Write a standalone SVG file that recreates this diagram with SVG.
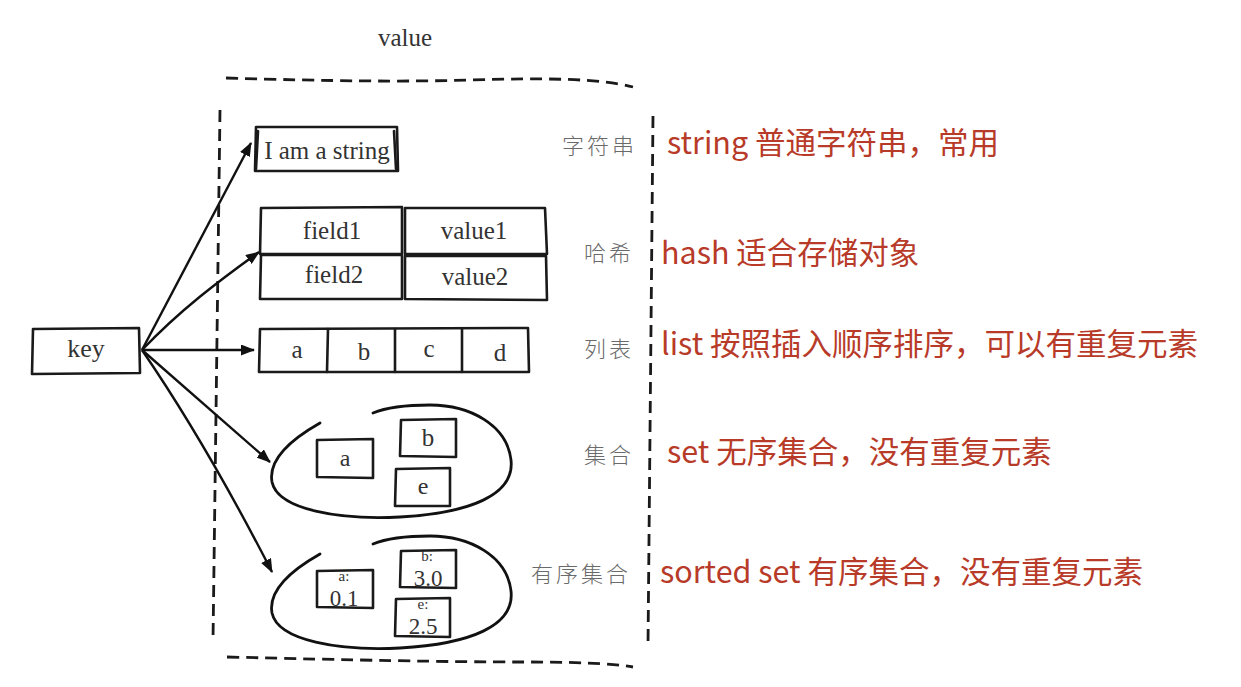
<svg xmlns="http://www.w3.org/2000/svg" width="1241" height="687" viewBox="0 0 1241 687">
<style>
.bg{fill:#ffffff}
.box{fill:none;stroke:#1a1a1a;stroke-width:2.6;stroke-linejoin:round;stroke-linecap:round}
.blob{fill:none;stroke:#111;stroke-width:2.8;stroke-linecap:round}
.dash{fill:none;stroke:#1a1a1a;stroke-width:2.8;stroke-dasharray:12 7}
.arr{fill:none;stroke:#111;stroke-width:2.4}
.serif{font-family:"Liberation Serif","DejaVu Serif",serif;fill:#333;text-anchor:middle}
.gray{font-family:"Noto Sans CJK SC","Noto Sans CJK JP",sans-serif;font-weight:300;fill:#6a6a6a;font-size:22px;letter-spacing:3px}
.red{font-family:"Noto Sans CJK SC","Noto Sans CJK JP",sans-serif;fill:#b83a28;font-size:30.5px}
</style>
<defs>
<marker id="ah" viewBox="0 0 14 11" refX="13" refY="5.5" markerWidth="14" markerHeight="11" markerUnits="userSpaceOnUse" orient="auto">
<path d="M0,0 L14,5.5 L0,11 Z" fill="#111"/>
</marker>
</defs>
<rect class="bg" x="0" y="0" width="1241" height="687"/>

<g id="value-title"><text class="serif" x="405" y="46" font-size="25">value</text></g>

<g id="value-frame">
<path class="dash" d="M226,78 C330,81 400,82 470,80 C540,78 600,78 633,87"/>
<path class="dash" d="M220,110 L213,641"/>
<path class="dash" d="M653,116 L648,646"/>
<path class="dash" d="M227,657 C350,660 450,662 520,662 C570,662 610,663 633,667"/>
</g>

<g id="key">
<path class="box" d="M33,329 L139,328 L140,373 L32,374 Z"/>
<text class="serif" x="86" y="357" font-size="26">key</text>
</g>

<g id="string">
<path class="box" d="M256,127 L397,127 L398,171 L255,171 Z"/>
<path class="box" d="M258,131 L256,169 M394,131 L396,169"/>
<text class="serif" x="327" y="159" font-size="25">I am a string</text>
</g>

<g id="hash">
<path class="box" d="M261,208 L402,207 L402,254 L260,254 Z"/>
<path class="box" d="M405,208 L545,208 L547,254 L405,254 Z"/>
<path class="box" d="M261,255 L402,255 L402,299 L260,299 Z"/>
<path class="box" d="M405,256 L546,256 L547,300 L405,299 Z"/>
<text class="serif" x="332" y="239" font-size="25">field1</text>
<text class="serif" x="474" y="239" font-size="25">value1</text>
<text class="serif" x="334" y="283" font-size="25">field2</text>
<text class="serif" x="475" y="285" font-size="25">value2</text>
</g>

<g id="list">
<path class="box" d="M260,329 L528,328 L529,372 L259,372 Z"/>
<path class="box" d="M328,329 L327,372 M395,329 L395,372 M462,329 L462,372"/>
<text class="serif" x="297" y="358" font-size="25">a</text>
<text class="serif" x="364" y="360" font-size="25">b</text>
<text class="serif" x="429" y="357" font-size="25">c</text>
<text class="serif" x="500" y="361" font-size="25">d</text>
</g>

<g id="set">
<path class="blob" d="M320,423 C290,440 268,460 272,482 C278,510 340,520 400,517 C470,513 515,495 511,460 C507,425 470,405 430,405 C405,405 385,408 373,413"/>
<path class="box" d="M317,440 L373,439 L373,478 L317,477 Z"/>
<path class="box" d="M401,420 L456,419 L456,457 L400,456 Z"/>
<path class="box" d="M396,469 L450,468 L450,506 L395,506 Z"/>
<text class="serif" x="345" y="466" font-size="24">a</text>
<text class="serif" x="428" y="446" font-size="25">b</text>
<text class="serif" x="423" y="494" font-size="24">e</text>
</g>

<g id="sorted-set">
<path class="blob" d="M320,554 C290,571 268,591 272,613 C278,641 340,651 400,648 C470,644 515,626 511,591 C507,556 470,536 430,536 C405,536 385,539 373,544"/>
<path class="box" d="M317,571 L373,570 L373,608 L317,607 Z"/>
<path class="box" d="M401,551 L456,550 L456,588 L400,587 Z"/>
<path class="box" d="M396,599 L450,598 L450,637 L395,636 Z"/>
<text class="serif" x="344" y="581" font-size="15">a:</text>
<text class="serif" x="344" y="606" font-size="23">0.1</text>
<text class="serif" x="427" y="561" font-size="15">b:</text>
<text class="serif" x="428" y="586" font-size="23">3.0</text>
<text class="serif" x="423" y="609" font-size="15">e:</text>
<text class="serif" x="423" y="634" font-size="23">2.5</text>
</g>

<g id="connectors">
<path class="arr" d="M142,350 L251,143" marker-end="url(#ah)"/>
<path class="arr" d="M142,350 C180,310 220,280 259,252" marker-end="url(#ah)"/>
<path class="arr" d="M142,350 L254,350" marker-end="url(#ah)"/>
<path class="arr" d="M142,350 L270,462" marker-end="url(#ah)"/>
<path class="arr" d="M142,350 C190,420 235,500 272,572" marker-end="url(#ah)"/>
</g>

<g id="type-labels">
<text class="gray" x="562" y="154">字符串</text>
<text class="gray" x="584" y="261">哈希</text>
<text class="gray" x="584" y="357">列表</text>
<text class="gray" x="584" y="463">集合</text>
<text class="gray" x="531" y="582">有序集合</text>
</g>

<g id="notes">
<text class="red" x="667" y="154">string 普通字符串，常用</text>
<text class="red" x="661" y="264">hash 适合存储对象</text>
<text class="red" x="661" y="355">list 按照插入顺序排序，可以有重复元素</text>
<text class="red" x="667" y="463">set 无序集合，没有重复元素</text>
<text class="red" x="660" y="583">sorted set 有序集合，没有重复元素</text>
</g>
</svg>
